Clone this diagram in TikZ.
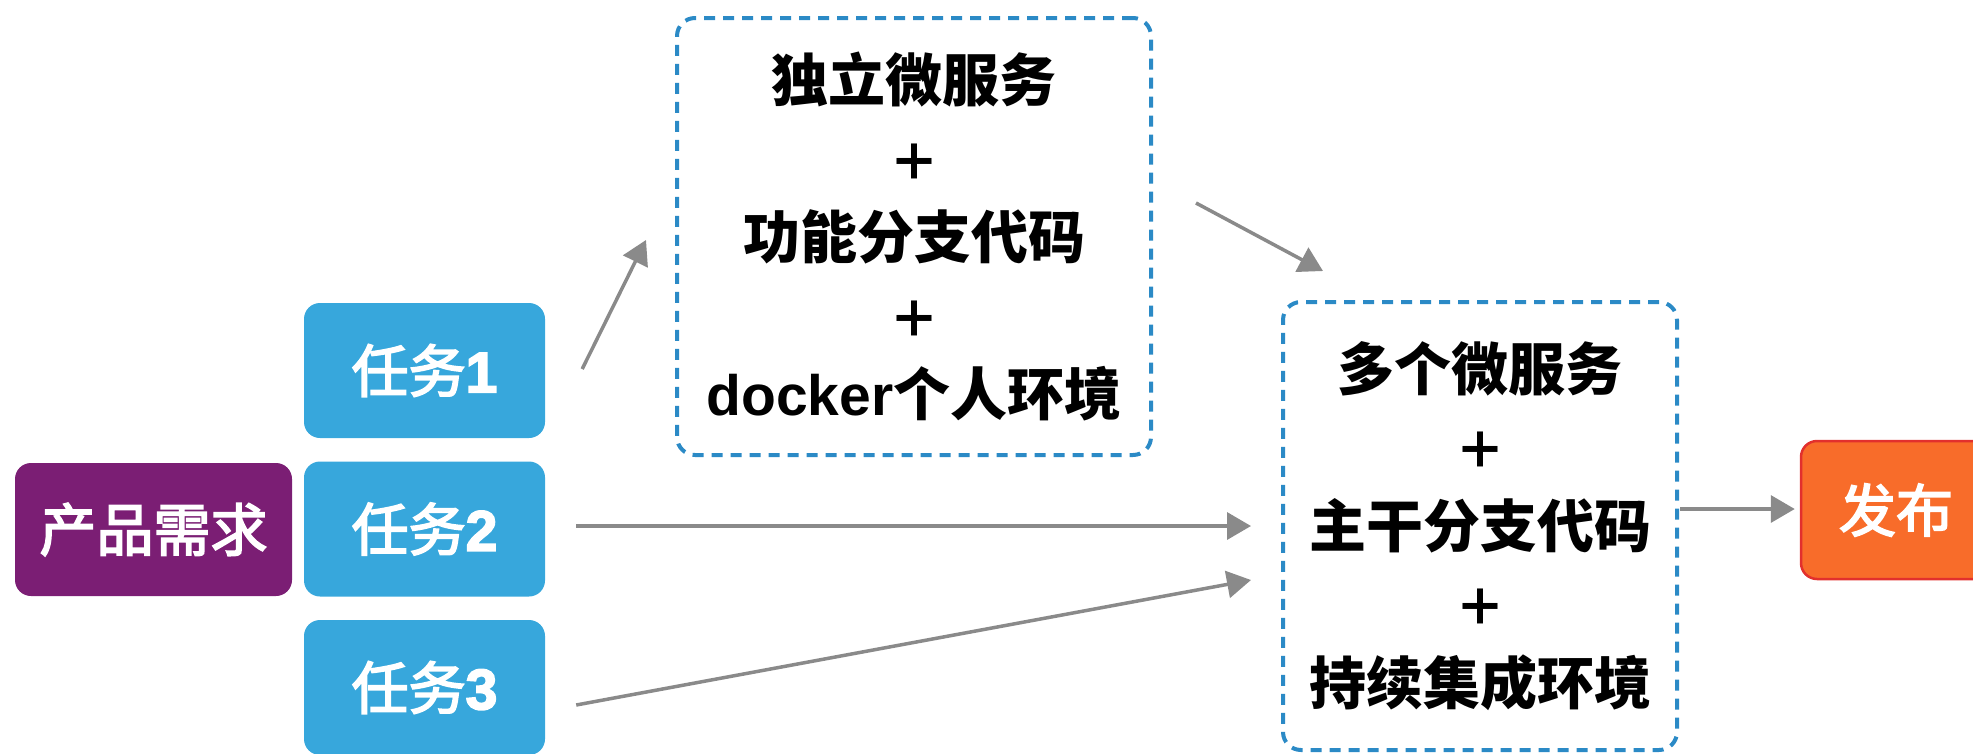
\documentclass[tikz,border=0pt]{standalone}
\usepackage{fontspec}
\newfontfamily\cjk{Noto Sans CJK SC}
\newfontfamily\lat{Liberation Sans}
\usetikzlibrary{arrows.meta}
\definecolor{taskblue}{HTML}{37A7DC}
\definecolor{prodpurple}{HTML}{7B1E74}
\definecolor{puborange}{HTML}{F86C2A}
\definecolor{pubred}{HTML}{E2302D}
\definecolor{dashblue}{HTML}{2B8AC6}
\definecolor{arrgray}{HTML}{8A8A8A}
\newcommand{\heavytext}{\special{pdf:literal direct 2 Tr 1.7 w}}
\tikzset{
  box/.style={rounded corners=16pt, inner sep=0pt, align=center,
    font={\cjk\bfseries\fontsize{57pt}{78.5pt}\selectfont}},
  solidbox/.style={box, font={\cjk\fontsize{57pt}{78.5pt}\selectfont\heavytext}},
  taskbox/.style={solidbox, fill=taskblue, text=white, minimum width=241pt, minimum height=135pt},
  prodbox/.style={solidbox, fill=prodpurple, text=white, minimum width=277pt, minimum height=133pt},
  pubbox/.style={solidbox, fill=puborange, draw=pubred, line width=2.5pt, text=white, minimum width=190pt, minimum height=138pt},
  groupbox/.style={box, draw=dashblue, line width=4pt, dash pattern=on 11pt off 8pt, rounded corners=18pt},
  arr/.style={draw=arrgray, line width=3.5pt, -{Triangle[length=24pt,width=27pt]}, arrgray}
}
\newcommand{\plusmark}{{\cjk\bfseries\fontsize{50pt}{78.5pt}\selectfont ＋}}
\begin{document}
\begin{tikzpicture}[x=1pt,y=-1pt]
\useasboundingbox (0,0) rectangle (1973,753);
\clip (0,0) rectangle (1973,753);

\node[prodbox] (prod) at (153.5,529.5) {产品需求};
\node[taskbox] (t1) at (424.5,370.5) {任务{\lat\bfseries 1}};
\node[taskbox] (t2) at (424.5,529) {任务{\lat\bfseries 2}};
\node[taskbox] (t3) at (424.5,687.5) {任务{\lat\bfseries 3}};

\node[groupbox, minimum width=474pt, minimum height=437pt] (b1) at (914,236.5)
  {独立微服务\\\plusmark\\功能分支代码\\\plusmark\\{\lat\bfseries docker}个人环境};
\node[groupbox, minimum width=394pt, minimum height=448pt] (b2) at (1480,526)
  {多个微服务\\\plusmark\\主干分支代码\\\plusmark\\持续集成环境};

\node[pubbox] (pub) at (1896,510) {发布};

\draw[arr] ([shift={(37,-1.5)}]t1.east) -- ([shift={(-29,3.5)}]b1.west);
\draw[arr] ([shift={(43,-33.5)}]b1.east) -- ([shift={(42,-29)}]b2.north west);
\draw[arr] ([shift={(31,-3)}]t2.east) -- ([shift={(-30,0)}]b2.west);
\draw[arr] ([shift={(31,17.5)}]t3.east) -- ([shift={(-30,54)}]b2.west);
\draw[arr] ([shift={(1,-17)}]b2.east) -- ([shift={(-5,-1)}]pub.west);
\end{tikzpicture}
\end{document}
